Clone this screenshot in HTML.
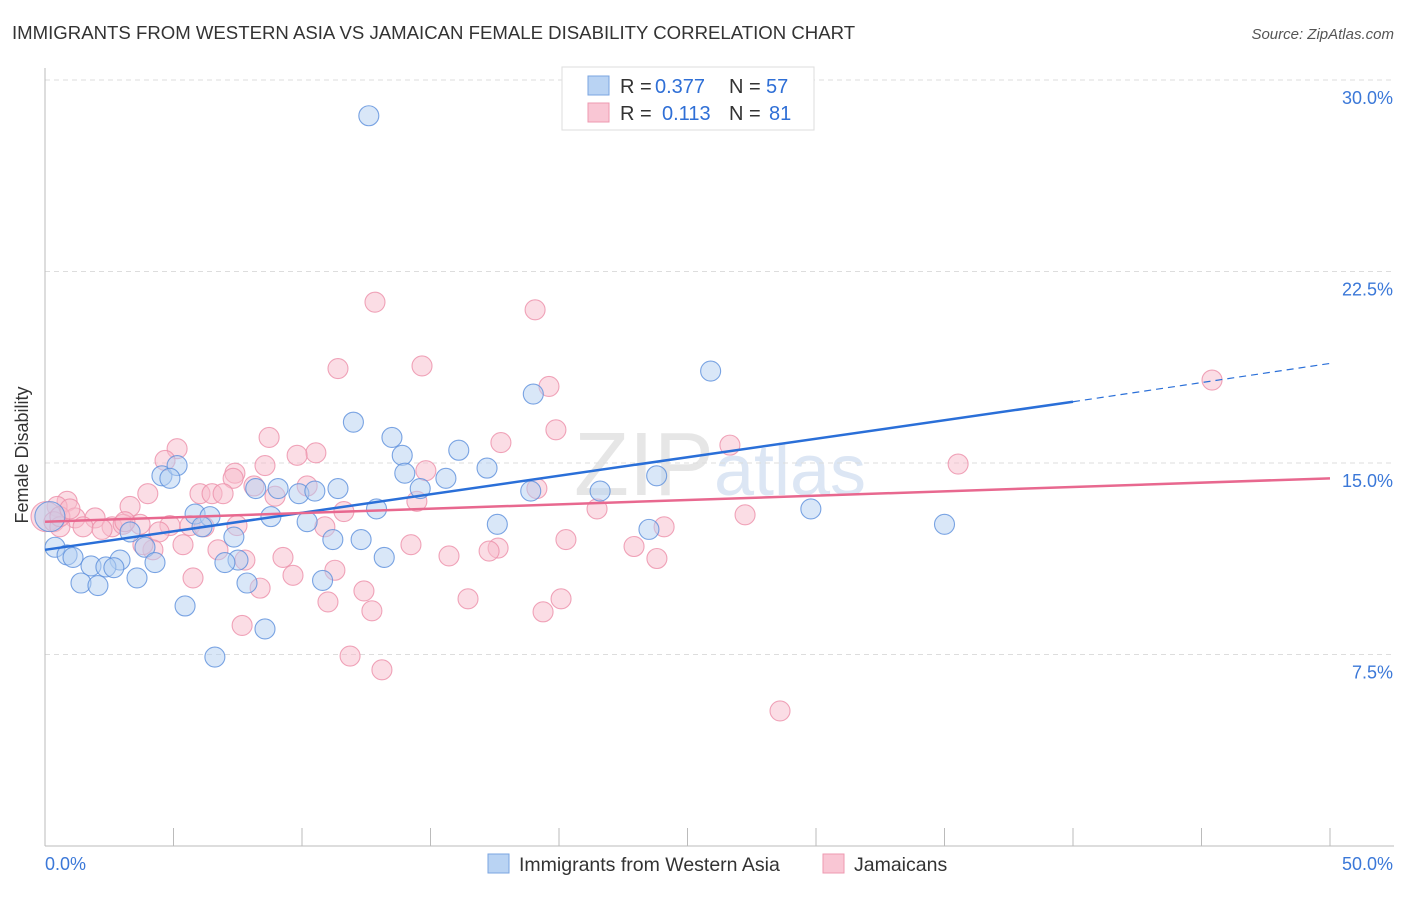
<!DOCTYPE html>
<html><head><meta charset="utf-8"><style>
body{margin:0;background:#fff;font-family:"Liberation Sans",sans-serif}
svg text{font-family:"Liberation Sans",sans-serif}
</style></head><body>
<svg id="c" width="1406" height="892">
<text x="12" y="39" font-size="18.6" fill="#333">IMMIGRANTS FROM WESTERN ASIA VS JAMAICAN FEMALE DISABILITY CORRELATION CHART</text>
<text x="1394" y="39" font-size="15" fill="#555" font-style="italic" text-anchor="end">Source: ZipAtlas.com</text>
<text x="720" y="495" font-size="90" fill="#e6e6e6" text-anchor="middle" font-family="Liberation Serif">ZIP<tspan fill="#dce6f4" font-family="Liberation Sans" font-size="72">atlas</tspan></text>
<g id="grid"></g><g id="axes"></g><g id="pts"></g><g id="trend"></g>
<text x="28" y="455" font-size="18" fill="#333" text-anchor="middle" transform="rotate(-90 28 455)">Female Disability</text>
<g>
<rect x="562" y="67" width="252" height="63" fill="#fff" stroke="#ddd"/>
<rect x="588" y="76" width="21" height="19" fill="#b9d3f3" stroke="#7aa5e0"/>
<rect x="588" y="103" width="21" height="19" fill="#f9c6d4" stroke="#ee99b0"/>
<text x="620" y="93" font-size="20" fill="#333">R =</text>
<text x="655" y="93" font-size="20" fill="#2f6fd6">0.377</text>
<text x="729" y="93" font-size="20" fill="#333">N =</text>
<text x="766" y="93" font-size="20" fill="#2f6fd6">57</text>
<text x="620" y="120" font-size="20" fill="#333">R =</text>
<text x="662" y="120" font-size="20" fill="#2f6fd6">0.113</text>
<text x="729" y="120" font-size="20" fill="#333">N =</text>
<text x="769" y="120" font-size="20" fill="#2f6fd6">81</text>
</g>
<g>
<rect x="488" y="854" width="21" height="19" fill="#b9d3f3" stroke="#7aa5e0"/>
<text x="519" y="871" font-size="19.5" fill="#333">Immigrants from Western Asia</text>
<rect x="823" y="854" width="21" height="19" fill="#f9c6d4" stroke="#ee99b0"/>
<text x="854" y="871" font-size="19.5" fill="#333">Jamaicans</text>
</g>
</svg>
<script>
const yTicks=[7.5,15,22.5,30];
const yTickLabels=["7.5%","15.0%","22.5%","30.0%"];
const xTickLabels=["0.0%","50.0%"];
const blueX=[12.6,25.9,19,12,13.5,16.1,13.9,17.2,14,15.6,23.8,4.55,5.14,4.86,8.2,9.07,9.88,10.5,11.4,14.6,18.9,21.6,29.8,12.9,5.84,6.42,8.79,10.2,6.11,17.6,35,23.5,7.35,3.31,11.2,12.3,3.89,0.19,0.39,0.86,1.09,2.92,4.28,1.79,2.37,2.68,7.51,7,3.58,1.4,2.06,7.86,10.8,13.2,5.45,8.56,6.61];
const blueY=[28.6,18.6,17.7,16.6,16,15.5,15.3,14.8,14.6,14.4,14.5,14.5,14.9,14.4,14.0,14.0,13.8,13.9,14.0,14.0,13.9,13.9,13.2,13.2,13.0,12.9,12.9,12.7,12.5,12.6,12.6,12.4,12.1,12.3,12.0,12.0,11.7,12.9,11.7,11.4,11.3,11.2,11.1,10.97,10.93,10.9,11.2,11.1,10.5,10.3,10.2,10.3,10.4,11.3,9.4,8.5,7.4];
const pinkX=[12.84,19.07,45.41,14.67,11.4,19.61,19.88,17.74,26.65,35.53,8.72,5.14,4.67,10.54,9.81,8.56,7.39,14.82,7.32,10.2,8.13,19.14,14.47,8.95,4,6.03,6.5,6.93,3.31,0.86,0.47,1.17,1.95,2.61,3.04,3.7,3.11,1.48,2.22,0.04,0.35,0.58,4.86,5.64,6.19,7.47,10.89,11.63,21.48,27.24,24.09,4.44,5.37,4.2,3.81,6.73,7.78,14.24,15.72,17.63,17.28,20.27,22.92,23.81,9.26,11.28,5.76,8.37,9.65,12.41,11.01,16.46,20.08,19.38,12.72,7.67,11.87,13.11,28.6,0.58,0.97];
const pinkY=[21.3,21.0,18.25,18.8,18.7,18.0,16.3,15.8,15.7,14.96,16.0,15.56,15.1,15.4,15.3,14.9,14.6,14.7,14.4,14.1,14.1,14.0,13.5,13.7,13.8,13.8,13.8,13.8,13.3,13.5,13.3,12.85,12.85,12.5,12.6,12.6,12.7,12.5,12.4,12.9,12.7,12.5,12.55,12.55,12.5,12.55,12.5,13.1,13.2,12.97,12.5,12.3,11.8,11.6,11.8,11.6,11.2,11.8,11.36,11.67,11.55,12.0,11.73,11.26,11.3,10.8,10.5,10.1,10.6,9.99,9.56,9.68,9.68,9.17,9.21,8.64,7.44,6.9,5.29,12.9,13.2];
const blueTrend=[[0,11.6],[40,17.4],[50,18.9]];
const pinkTrend=[[0,12.7],[50,14.4]];
const X0=45,X1=1330,Y0=846,Y1=80;
const sx=v=>X0+v/50*(X1-X0), sy=v=>Y0-v/30*(Y0-Y1);
const NS="http://www.w3.org/2000/svg";
function mk(t,a,p){const e=document.createElementNS(NS,t);for(const k in a)e.setAttribute(k,a[k]);p.appendChild(e);return e;}
const grid=document.getElementById('grid'),axes=document.getElementById('axes'),pts=document.getElementById('pts'),tr=document.getElementById('trend');
yTicks.forEach((v,i)=>{
 const l=mk('line',{x1:X0,x2:1394,y1:sy(v),y2:sy(v),stroke:'#ddd','stroke-dasharray':'5,4'},grid);
 
 
 const t=mk('text',{x:1393,y:sy(v)+24,'font-size':18,fill:'#3b78d8','text-anchor':'end'},axes);
 t.textContent=yTickLabels[i];
 
 
});
const ax=mk('line',{x1:X0,x2:X0,y1:68,y2:Y0,stroke:'#bbb'},axes);


const bx=mk('line',{x1:X0,x2:1394,y1:Y0,y2:Y0,stroke:'#bbb'},axes);


for(let i=0;i<=10;i++){const x=sx(i*5);const k=mk('line',{x1:x,x2:x,y1:Y0,y2:Y0-18,stroke:'#bbb'},axes);
 
 }
[[0,'start',45],[50,'end',1393]].forEach((d,i)=>{const t=mk('text',{x:d[2],y:870,'font-size':18,fill:'#3b78d8','text-anchor':d[1]},axes);t.textContent=xTickLabels[i];
 
 });
function dots(xs,ys,fill,stroke,name,big){xs.forEach((x,i)=>{const c=mk('circle',{cx:sx(x),cy:sy(ys[i]),r:i===big?15:10,fill:fill,'fill-opacity':0.5,stroke:stroke,'stroke-width':1.1,'stroke-opacity':0.8},pts);
 
 });}
dots(pinkX,pinkY,'#f7bccb','#ec8fa9','jamaicans-point',39);
dots(blueX,blueY,'#b4cff2','#5b8fdc','western-asia-point',37);
const b1=mk('line',{x1:sx(blueTrend[0][0]),y1:sy(blueTrend[0][1]),x2:sx(blueTrend[1][0]),y2:sy(blueTrend[1][1]),stroke:'#2a6fd8','stroke-width':2.5},tr);


const b2=mk('line',{x1:sx(blueTrend[1][0]),y1:sy(blueTrend[1][1]),x2:sx(blueTrend[2][0]),y2:sy(blueTrend[2][1]),stroke:'#2a6fd8','stroke-width':1.2,'stroke-dasharray':'7,5'},tr);


const p1=mk('line',{x1:sx(pinkTrend[0][0]),y1:sy(pinkTrend[0][1]),x2:sx(pinkTrend[1][0]),y2:sy(pinkTrend[1][1]),stroke:'#e8688f','stroke-width':2.5},tr);


</script>
</body></html>
